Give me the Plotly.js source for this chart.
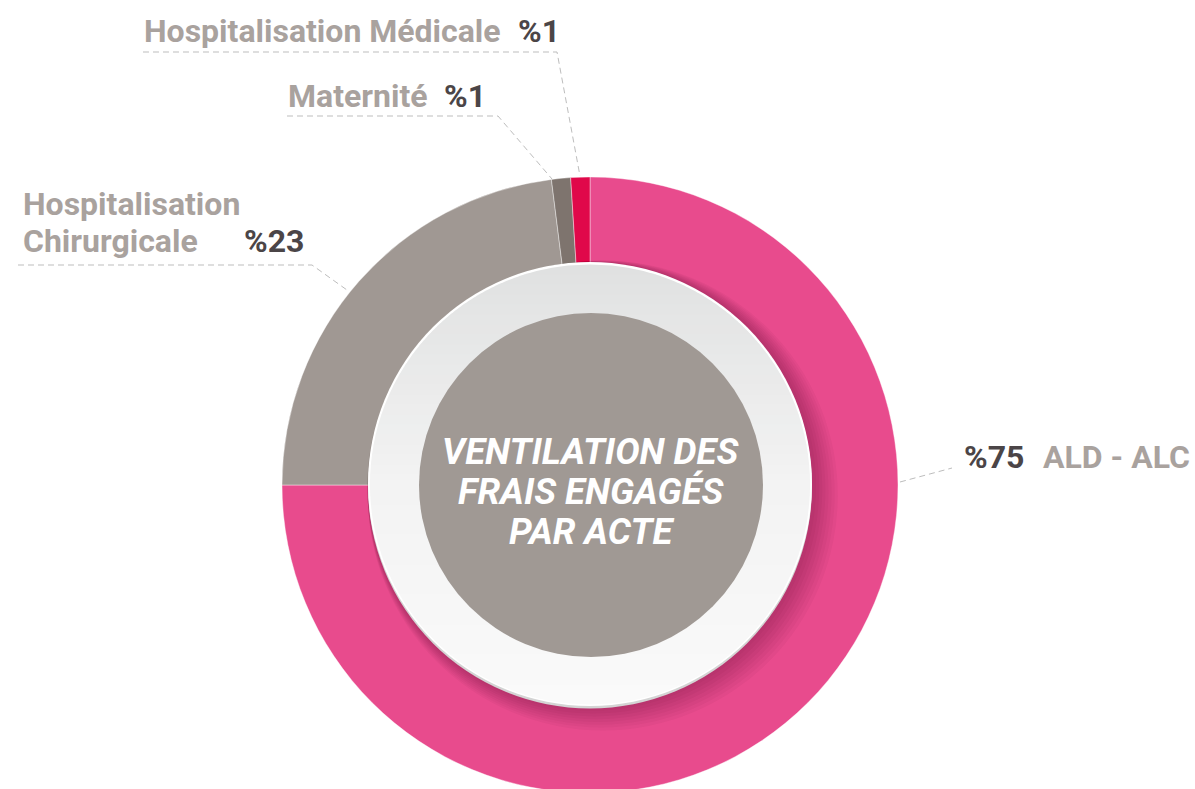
<!DOCTYPE html>
<html>
<head>
<meta charset="utf-8">
<script src="https://cdn.plot.ly/plotly-3.0.1.min.js"></script>
<style>
html,body{margin:0;padding:0;overflow:hidden;background:#ffffff;}
#chart{width:1195px;height:800px;}
</style>
</head>
<body>
<div id="chart"></div>
<script>
// ---- data ----
const categories = ['ALD - ALC', 'Hospitalisation Chirurgicale', 'Maternité', 'Hospitalisation Médicale'];
const values = [75, 23, 1, 1];
const sliceColors = ['#E84B8D', '#A09893', '#7E746E', '#E0084A'];
const centerTitle = ['VENTILATION DES', 'FRAIS ENGAGÉS', 'PAR ACTE'];

// ---- geometry helpers (pixel -> paper) ----
const W = 1195, H = 800;
const px = x => x / W;
const py = y => 1 - y / H;
const CX = 590, CY = 485, R = 308;

function circle(cx, cy, r, fill) {
  return {type: 'circle', xref: 'paper', yref: 'paper', layer: 'above',
    x0: px(cx - r), x1: px(cx + r), y0: py(cy + r), y1: py(cy - r),
    fillcolor: fill, line: {width: 0}};
}
function bandPath(cx, cy, r, y0, y1) {
  const n = 10, pts = [];
  const clampY = y => Math.min(cy + r, Math.max(cy - r, y));
  for (let i = 0; i <= n; i++) {
    const y = clampY(y0 + (y1 - y0) * i / n);
    pts.push([cx + Math.sqrt(Math.max(0, r * r - (y - cy) * (y - cy))), y]);
  }
  for (let i = n; i >= 0; i--) {
    const y = clampY(y0 + (y1 - y0) * i / n);
    pts.push([cx - Math.sqrt(Math.max(0, r * r - (y - cy) * (y - cy))), y]);
  }
  return 'M' + pts.map(p => px(p[0]).toFixed(6) + ',' + py(p[1]).toFixed(6)).join('L') + 'Z';
}
function gradColor(t) {
  const stops = [[0, [224, 225, 225]], [0.5, [243, 243, 243]], [1, [250, 250, 250]]];
  for (let i = 0; i < stops.length - 1; i++) {
    const [a, ca] = stops[i], [b, cb] = stops[i + 1];
    if (t >= a && t <= b) {
      const f = (t - a) / (b - a);
      const c = ca.map((v, j) => Math.round(v + (cb[j] - v) * f));
      return 'rgb(' + c.join(',') + ')';
    }
  }
  return 'rgb(250,250,250)';
}

const shapes = [];
// soft shadow of the inner ring
for (let k = 1; k <= 8; k++) {
  shapes.push(circle(CX + 1.6 * k, CY + 1.3 * k, 223 + 1.5 * k, 'rgba(70,0,30,0.035)'));
}
// rim
shapes.push(circle(CX, CY + 1.5, 222, '#d4d4d4'));
shapes.push(circle(CX, CY - 1, 222, '#ffffff'));
// gradient ring
const gcx = CX, gcy = CY - 0.5, gr = 220;
const nb = 44, ringTop = gcy - gr, bh = 2 * gr / nb;
for (let i = 0; i < nb; i++) {
  const y0 = ringTop + i * bh, y1 = Math.min(ringTop + (i + 1) * bh + 1, gcy + gr);
  shapes.push({type: 'path', xref: 'paper', yref: 'paper', layer: 'above',
    path: bandPath(gcx, gcy, gr, y0, y1), fillcolor: gradColor((i + 0.5) / nb), line: {width: 0}});
}
// inner grey disc
shapes.push(circle(591, 485, 172, '#A09994'));

// leader lines
const leader = {color: '#bdbdbd', width: 1, dash: '6px,4px'};
function poly(points) {
  return {type: 'path', xref: 'paper', yref: 'paper', layer: 'above',
    path: 'M' + points.map(p => px(p[0]).toFixed(6) + ',' + py(p[1]).toFixed(6)).join('L'),
    line: leader, fillcolor: 'rgba(0,0,0,0)'};
}
shapes.push(poly([[143, 52], [557, 52], [580, 176]]));
shapes.push(poly([[287, 116], [498, 116], [552, 179]]));
shapes.push(poly([[18, 265], [312, 265], [347, 290]]));
shapes.push(poly([[900, 482], [952, 468]]));

// annotations
const labelFont = {family: 'Roboto, Arial, sans-serif', size: 32, color: '#A9A29E', weight: 'bold'};
const numFont = {family: 'Roboto, Arial, sans-serif', size: 32, color: '#4B4547', weight: 'bold'};
function ann(text, x, y, font, anchor) {
  return {text: text, x: px(x), y: py(y), xref: 'paper', yref: 'paper',
    xanchor: anchor || 'left', yanchor: 'middle', showarrow: false, font: font};
}
const pct = v => '%' + v;
const annotations = [
  ann(categories[3], 142, 31, labelFont),
  ann(pct(values[3]), 516, 31, numFont),
  ann(categories[2], 286, 96, labelFont),
  ann(pct(values[2]), 442, 96, numFont),
  ann(categories[1].split(' ')[0], 21, 204, labelFont),
  ann(categories[1].split(' ')[1], 21, 241, labelFont),
  ann(pct(values[1]), 242, 241, numFont),
  ann(pct(values[0]), 962, 457, numFont),
  ann(categories[0], 1041, 457, labelFont)
];
const titleFont = {family: 'Roboto, Arial, sans-serif', size: 36.5, color: '#ffffff', weight: 'bold', style: 'italic'};
[451, 491, 531].forEach((y, i) => annotations.push(ann(centerTitle[i], 591, y, titleFont, 'center')));

const trace = {
  type: 'pie',
  labels: categories,
  values: values,
  marker: {colors: sliceColors, line: {color: 'rgba(255,255,255,0.5)', width: 0.8}},
  sort: false,
  direction: 'clockwise',
  rotation: 0,
  hole: 0.7,
  textinfo: 'none',
  hoverinfo: 'label+percent',
  showlegend: false,
  domain: {x: [px(CX - R), px(CX + R)], y: [py(CY + R), py(CY - R)]}
};

const layout = {
  width: W, height: H,
  margin: {l: 0, r: 0, t: 0, b: 0, pad: 0},
  paper_bgcolor: '#ffffff',
  plot_bgcolor: '#ffffff',
  showlegend: false,
  shapes: shapes,
  annotations: annotations
};

Plotly.newPlot('chart', [trace], layout, {displayModeBar: false, staticPlot: true});
</script>
</body>
</html>
